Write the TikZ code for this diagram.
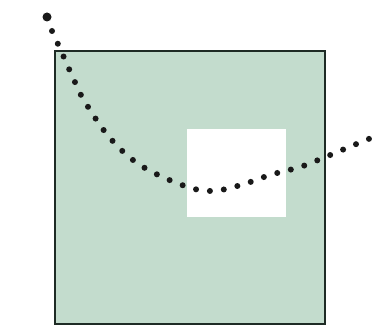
\documentclass[tikz,border=0pt]{standalone}
\definecolor{sqfill}{HTML}{C3DCCD}
\definecolor{edge}{HTML}{1E2B25}
\begin{document}
\begin{tikzpicture}[x=1pt,y=-1pt,
  dotline/.style={line width=6pt,line cap=round,dash pattern=on 0pt off 14pt,color=black!90}]
\useasboundingbox (0,0) rectangle (379,326);
\draw[fill=sqfill,draw=edge,line width=2.2pt] (55,51) rectangle (325,324);
\fill[white] (187,129) rectangle (286,217);
\fill[black!90] (47,17) circle (4.5pt);
\draw[dotline] plot[smooth,tension=0.6] coordinates {(52,31) (62,53) (74,80) (85,102) (110,138) (140,165) (182,185) (211,191) (241,185) (270,175) (300,167) (323,158) (354,145) (376,136)};
\end{tikzpicture}
\end{document}
